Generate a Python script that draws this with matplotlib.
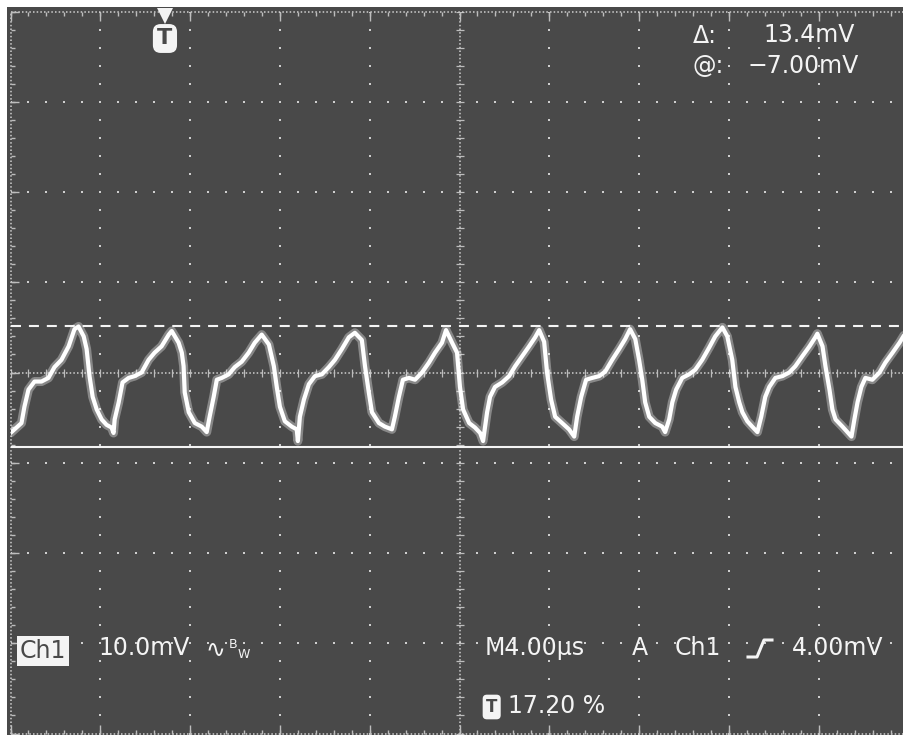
import matplotlib
matplotlib.use("Agg")
import matplotlib.pyplot as plt
from matplotlib.patches import Rectangle
from matplotlib.lines import Line2D
import numpy as np

# ---------------- data ----------------
time_us = [0.00, 0.49, 0.62, 0.80, 1.07, 1.38, 1.69, 1.96, 2.27, 2.59, 2.85, 3.03,
           3.26, 3.39, 3.52, 3.66, 3.84, 4.06, 4.28, 4.50, 4.59, 4.64, 4.82, 4.99,
           5.26, 5.53, 5.84, 6.15, 6.42, 6.73, 7.05, 7.18, 7.49, 7.63, 7.71, 7.76,
           7.94, 8.21, 8.52, 8.74, 8.87, 9.05, 9.19, 9.41, 9.72, 9.99, 10.30, 10.61,
           10.88, 11.19, 11.51, 11.73, 11.86, 12.00, 12.22, 12.53, 12.75, 12.80, 12.89,
           13.07, 13.29, 13.56, 13.87, 14.18, 14.45, 14.76, 15.07, 15.34, 15.65, 15.79,
           15.96, 16.10, 16.41, 16.68, 16.99, 17.12, 17.30, 17.48, 17.75, 18.02, 18.33,
           18.64, 18.91, 19.22, 19.40, 19.67, 19.89, 20.02, 20.16, 20.43, 20.69, 20.92,
           21.05, 21.23, 21.36, 21.58, 21.90, 22.21, 22.48, 22.79, 23.10, 23.37, 23.55,
           23.77, 23.90, 24.08, 24.26, 24.57, 24.88, 25.11, 25.24, 25.42, 25.64, 25.91,
           26.22, 26.49, 26.80, 27.11, 27.38, 27.60, 27.83, 28.00, 28.14, 28.27, 28.45,
           28.72, 29.03, 29.16, 29.34, 29.48, 29.65, 29.92, 30.23, 30.50, 30.81, 31.13,
           31.39, 31.71, 31.93, 32.15, 32.29, 32.46, 32.60, 32.82, 33.04, 33.27, 33.44,
           33.62, 33.80, 34.07, 34.38, 34.69, 34.96, 35.27, 35.59, 35.85, 35.94, 36.17,
           36.30, 36.48, 36.61, 36.75, 37.06, 37.28, 37.46, 37.59, 37.73, 37.90, 38.08,
           38.39, 38.71, 38.97, 39.29, 39.60, 39.87]
volt_mV = [-6.7, -5.6, -3.8, -1.9, -1.0, -1.0, -0.6, 0.6, 1.4, 2.9, 4.8, 5.1,
           4.0, 2.6, -0.4, -2.7, -4.1, -5.2, -5.8, -6.1, -6.7, -5.2, -3.3, -1.1,
           -0.6, -0.4, 0.0, 1.4, 2.2, 2.9, 4.2, 4.6, 3.3, 2.2, 0.7, -2.2,
           -4.4, -5.6, -6.0, -6.6, -4.9, -2.7, -0.8, -0.6, -0.2, 0.6, 1.2, 2.2,
           3.3, 4.2, 3.1, 0.7, -1.6, -3.8, -5.4, -6.0, -6.3, -7.6, -4.9,
           -3.0, -1.3, -0.4, -0.2, 0.6, 1.4, 2.6, 3.9, 4.4, 3.6, 0.7,
           -2.2, -4.4, -5.6, -6.0, -6.3, -4.9, -2.7, -0.8, -0.6, -0.8, 0.0,
           1.1, 2.2, 3.3, 4.7, 3.3, 2.2, -1.6, -4.1, -5.6, -6.1, -6.7,
           -7.6, -4.4, -2.7, -1.6, -1.1, -0.4, 0.7, 1.8, 2.9, 3.9, 4.7,
           3.4, 0.0, -3.0, -4.9, -5.6, -6.3, -7.1, -4.9, -2.7, -0.8, -0.6,
           -0.4, 0.1, 1.4, 2.6, 3.7, 4.8, 3.7, 1.4, -0.8, -3.3, -4.9,
           -5.6, -6.0, -6.6, -5.2, -3.3, -1.9, -0.6, -0.2, 0.3, 1.4, 2.8,
           4.0, 5.0, 4.0, 1.4, -1.6, -3.3, -4.4, -5.4, -6.0, -6.6, -4.9,
           -2.7, -1.6, -0.6, -0.4, 0.0, 0.7, 1.8, 2.9, 3.9, 4.3, 2.9,
           0.7, -1.9, -4.1, -5.2, -6.0, -6.6, -7.1, -5.2, -3.3, -1.6, -0.6,
           -0.8, 0.0, 1.1, 2.2, 3.3, 4.4]

cursor_low_mV = -8.2
cursor_delta_mV = 13.4
trigger_pct = 17.20
us_per_div = 4.0
mV_per_div = 10.0
n_xdiv, n_ydiv = 10, 8

delta_label = "13.4mV"
at_label = "\u22127.00mV"
ch_scale_label = "10.0mV"
timebase_label = "M4.00\u00b5s"
trig_source = "Ch1"
trig_level_label = "4.00mV"
trig_pos_label = "17.20 %"

# ---------------- styling ----------------
W, H = 904, 735
BG = "#494949"
GRID = "#cfcfcf"
FG = "#f4f4f4"
FONT = "DejaVu Sans"

fig = plt.figure(figsize=(W / 100, H / 100), dpi=100, facecolor="white")
fig.patches.append(Rectangle((7 / W, 0), 1, 1 - 7 / H, transform=fig.transFigure,
                             facecolor=BG, edgecolor="none", zorder=-5))
ax = fig.add_axes([10.5 / W, 1.5 / H, 898 / W, 722 / H])
ax.set_facecolor("none")
ax.set_zorder(1)
xmax = n_xdiv * us_per_div
ymax = n_ydiv / 2 * mV_per_div
ax.set_xlim(0, xmax)
ax.set_ylim(-ymax, ymax)
ax.axis("off")

sub_x = us_per_div / 5
sub_y = mV_per_div / 5
xs_sub = np.arange(0, xmax + 1e-9, sub_x)
ys_sub = np.arange(-ymax, ymax + 1e-9, sub_y)
xc = xmax / 2

# dotted graticule lines
dot_kw = dict(marker="s", ms=1.7, mew=0, color=GRID, ls="none", zorder=1)
for i in range(1, n_xdiv):
    if i == n_xdiv // 2:
        continue
    ax.plot(np.full_like(ys_sub, i * us_per_div), ys_sub, **dot_kw)
for j in range(1, n_ydiv):
    if j == n_ydiv // 2:
        continue
    ax.plot(xs_sub, np.full_like(xs_sub, -ymax + j * mV_per_div), **dot_kw)

# center cross with ticks
dense = (0, (1.0, 1.4))
tick_col = "#bdbdbd"
ax.axhline(0, color=GRID, lw=1.1, ls=dense, zorder=1)
ax.axvline(xc, color=GRID, lw=1.1, ls=dense, zorder=1)
ax.plot(xs_sub, np.zeros_like(xs_sub), marker="|", ms=5.5, mew=0.9, color=tick_col, ls="none", zorder=1)
ax.plot(np.full_like(ys_sub, xc), ys_sub, marker="_", ms=5.5, mew=0.9, color=tick_col, ls="none", zorder=1)

# border
for (xx, yy) in [([0, xmax], [ymax, ymax]), ([0, xmax], [-ymax, -ymax]),
                 ([0, 0], [-ymax, ymax]), ([xmax, xmax], [-ymax, ymax])]:
    ax.plot(xx, yy, color=GRID, lw=1.1, ls=dense, clip_on=False, zorder=1)
xs_major = np.arange(0, xmax + 1e-9, us_per_div)
ys_major = np.arange(-ymax, ymax + 1e-9, mV_per_div)
tk = dict(color=tick_col, ls="none", mew=1.0, clip_on=False, zorder=1)
ax.plot(xs_sub, np.full_like(xs_sub, ymax), marker=3, ms=3, **tk)
ax.plot(xs_major, np.full_like(xs_major, ymax), marker=3, ms=6.5, **tk)
ax.plot(xs_sub, np.full_like(xs_sub, -ymax), marker=2, ms=3, **tk)
ax.plot(xs_major, np.full_like(xs_major, -ymax), marker=2, ms=6.5, **tk)
ax.plot(np.zeros_like(ys_sub), ys_sub, marker=1, ms=3, **tk)
ax.plot(np.zeros_like(ys_major), ys_major, marker=1, ms=5.5, **tk)

# cursors
ax.axhline(cursor_low_mV, color=FG, lw=1.5, zorder=3)
ax.axhline(cursor_low_mV + cursor_delta_mV, color=FG, lw=1.5, ls=(0, (4.8, 3.8)), zorder=3)

# waveform (soft halo imitates the noisy trace band)
ax.plot(time_us, volt_mV, color="white", alpha=0.35, lw=6.5, solid_joinstyle="round",
        solid_capstyle="round", zorder=4)
ax.plot(time_us, volt_mV, color="white", lw=3.0, solid_joinstyle="round",
        solid_capstyle="round", zorder=5)

# trigger position marker at top
trig_x = trigger_pct / 100 * xmax
tx = ax.get_xaxis_transform()
ax.plot([trig_x], [1 - 4.0 / 722], marker="v", ms=11, color=FG, mew=0,
        transform=tx, clip_on=False, zorder=6)
ax.text(trig_x, 1 - 27 / 722, "T", transform=tx, ha="center", va="center",
        fontsize=16, fontweight="bold", color=BG, family=FONT, zorder=6,
        bbox=dict(boxstyle="round,pad=0.2,rounding_size=0.35", facecolor=FG, edgecolor="none"))


def ftext(x, y, s, **kw):
    kw.setdefault("family", FONT)
    kw.setdefault("color", FG)
    kw.setdefault("fontsize", 17)
    kw.setdefault("va", "center")
    kw.setdefault("ha", "left")
    return fig.text(x / W, 1 - y / H, s, **kw)


# readouts
ftext(693, 36, "\u0394:")
ftext(763, 35, delta_label)
ftext(693, 66, "@:")
ftext(748, 66, at_label)

ftext(20, 651, "Ch1", color=BG,
      bbox=dict(boxstyle="square,pad=0.12", facecolor=FG, edgecolor="none"))
ftext(98, 648, ch_scale_label)
ftext(206, 650, "\u223f", fontsize=17)
ftext(229, 645, "B", fontsize=9)
ftext(238, 654, "W", fontsize=9)

ftext(485, 648, timebase_label)
ftext(632, 648, "A")
ftext(675, 648, trig_source)
fig.add_artist(Line2D(np.array([748, 757, 764, 772]) / W,
                      1 - np.array([657, 657, 640, 640]) / H,
                      transform=fig.transFigure, color=FG, lw=2.2))
ftext(792, 648, trig_level_label)

ftext(486, 707, "T", color=BG, fontsize=12, fontweight="bold",
      bbox=dict(boxstyle="round,pad=0.2,rounding_size=0.25", facecolor=FG, edgecolor="none"))
ftext(508, 706, trig_pos_label)

fig.savefig("out.png", dpi=100, facecolor=fig.get_facecolor())
